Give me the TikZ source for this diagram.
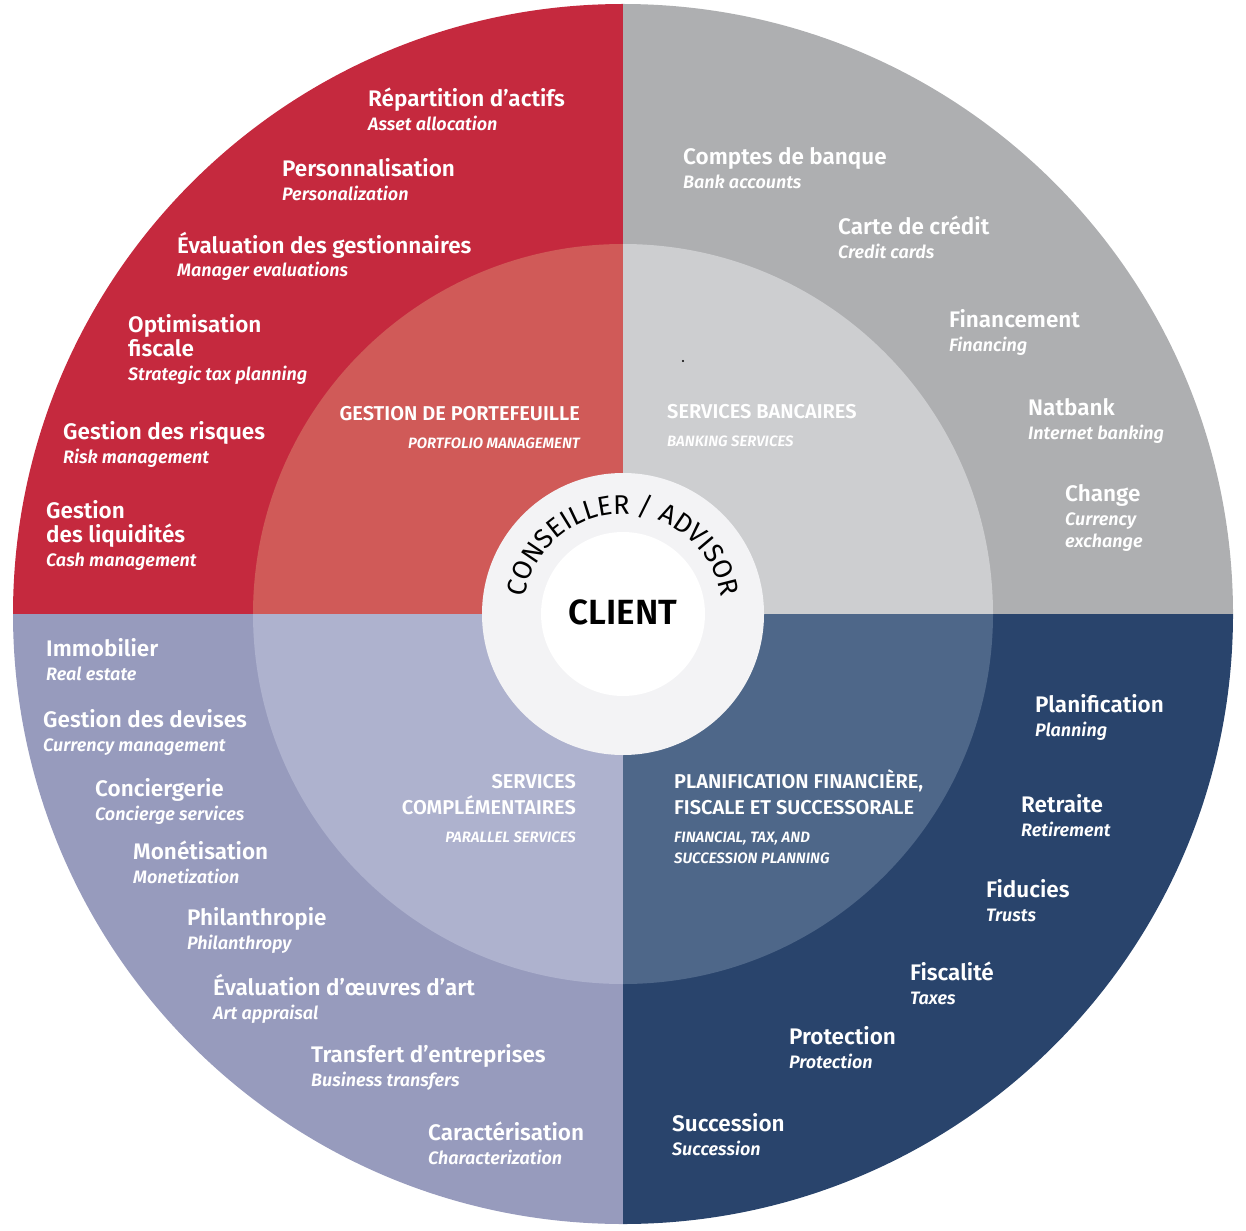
\documentclass[tikz,border=0pt]{standalone}
\usepackage{fontspec}
\setmainfont{Fira Sans}[BoldFont={Fira Sans SemiBold},BoldItalicFont={Fira Sans SemiBold Italic}]
\usetikzlibrary{decorations.text}

\definecolor{redout}{RGB}{197,41,62}
\definecolor{redin}{RGB}{208,90,88}
\definecolor{greyout}{RGB}{174,175,177}
\definecolor{greyin}{RGB}{205,206,208}
\definecolor{navyout}{RGB}{41,68,108}
\definecolor{navyin}{RGB}{78,103,137}
\definecolor{lavout}{RGB}{151,155,189}
\definecolor{lavin}{RGB}{174,178,206}
\definecolor{ringc}{RGB}{243,243,245}

\tikzset{
  svc/.style={anchor=base west, align=left, inner sep=0pt, text=white,
    font=\fontsize{22.5}{24}\selectfont\bfseries},
  head/.style={anchor=base west, align=left, inner sep=0pt, text=white,
    font=\fontsize{20}{26}\selectfont\bfseries},
  headr/.style={head, anchor=base east, align=right},
}
\newcommand{\en}[1]{{\fontsize{18}{24}\selectfont\itshape #1}}
\newcommand{\enhead}[1]{{\fontsize{15}{26}\selectfont\itshape #1}}

\begin{document}
\begin{tikzpicture}[x=1pt, y=-1pt]
    \useasboundingbox (0,0) rectangle (1246,1230);
    \coordinate (c) at (623,614);

    \begin{scope}
      \clip (c) circle[radius=610];
      \fill[redout] (c) rectangle ++(-620,-620);
      \fill[greyout] (c) rectangle ++(620,-620);
      \fill[navyout] (c) rectangle ++(620,620);
      \fill[lavout] (c) rectangle ++(-620,620);
    \end{scope}
    \begin{scope}
      \clip (c) circle[radius=370];
      \fill[redin] (c) rectangle ++(-380,-380);
      \fill[greyin] (c) rectangle ++(380,-380);
      \fill[navyin] (c) rectangle ++(380,380);
      \fill[lavin] (c) rectangle ++(-380,380);
    \end{scope}
    \fill[ringc] (c) circle[radius=141];
    \fill[white] (c) circle[radius=82];
    \fill[black] (683,361) circle[radius=1.2];

    % nodes are placed by the baseline of their last line
    \node[svc] (r1) at (368,131) {Répartition d’actifs\\\en{Asset allocation}};
    \node[svc] (r2) at (282,201) {Personnalisation\\\en{Personalization}};
    \node[svc] (r3) at (177,277) {Évaluation des gestionnaires\\\en{Manager evaluations}};
    \node[svc] (r4) at (128,380) {Optimisation\\fiscale\\\en{Strategic tax planning}};
    \node[svc] (r5) at (63,463) {Gestion des risques\\\en{Risk management}};
    \node[svc] (r6) at (46,566) {Gestion\\des liquidités\\\en{Cash management}};

    \node[svc] (g1) at (683,189) {Comptes de banque\\\en{Bank accounts}};
    \node[svc] (g2) at (838,259) {Carte de crédit\\\en{Credit cards}};
    \node[svc] (g3) at (949,351) {Financement\\\en{Financing}};
    \node[svc] (g4) at (1028,439) {Natbank\\\en{Internet banking}};
    \node[svc] (g5) at (1065,547) {Change\\\en{Currency}\\[-2pt]\en{exchange}};

    \node[svc] (b1) at (1035,736) {Planification\\\en{Planning}};
    \node[svc] (b2) at (1021,836) {Retraite\\\en{Retirement}};
    \node[svc] (b3) at (986,921) {Fiducies\\\en{Trusts}};
    \node[svc] (b4) at (910,1004) {Fiscalité\\\en{Taxes}};
    \node[svc] (b5) at (789,1068) {Protection\\\en{Protection}};
    \node[svc] (b6) at (672,1155) {Succession\\\en{Succession}};

    \node[svc] (l1) at (46,680) {Immobilier\\\en{Real estate}};
    \node[svc] (l2) at (43,751) {Gestion des devises\\\en{Currency management}};
    \node[svc] (l3) at (95,820) {Conciergerie\\\en{Concierge services}};
    \node[svc] (l4) at (133,883) {Monétisation\\\en{Monetization}};
    \node[svc] (l5) at (187,949) {Philanthropie\\\en{Philanthropy}};
    \node[svc] (l6) at (213,1019) {Évaluation d’œuvres d’art\\\en{Art appraisal}};
    \node[svc] (l7) at (311,1086) {Transfert d’entreprises\\\en{Business transfers}};
    \node[svc] (l8) at (428,1164) {Caractérisation\\\en{Characterization}};

    \node[headr] (hport) at (580,448) {GESTION DE PORTEFEUILLE\\[2pt]\enhead{PORTFOLIO MANAGEMENT}};
    \node[head] (hbank) at (667,446) {SERVICES BANCAIRES\\[2pt]\enhead{BANKING SERVICES}};
    \node[headr] (hcomp) at (576,842) {SERVICES\\COMPLÉMENTAIRES\\[2pt]\enhead{PARALLEL SERVICES}};
    \node[head] (hplan) at (674,863) {PLANIFICATION FINANCIÈRE,\\FISCALE ET SUCCESSORALE\\[2pt]\enhead{FINANCIAL, TAX, AND}\\[-5pt]\enhead{SUCCESSION PLANNING}};

    \node[font=\fontsize{35}{35}\selectfont\bfseries] (client) at (623,612) {CLIENT};
    \path[decorate, decoration={text along path, text align=center,
        text={|\fontsize{27}{27}\selectfont|CONSEILLER / ADVISOR}}]
      (523,614) arc[start angle=180, end angle=360, radius=100];
\end{tikzpicture}
\end{document}
